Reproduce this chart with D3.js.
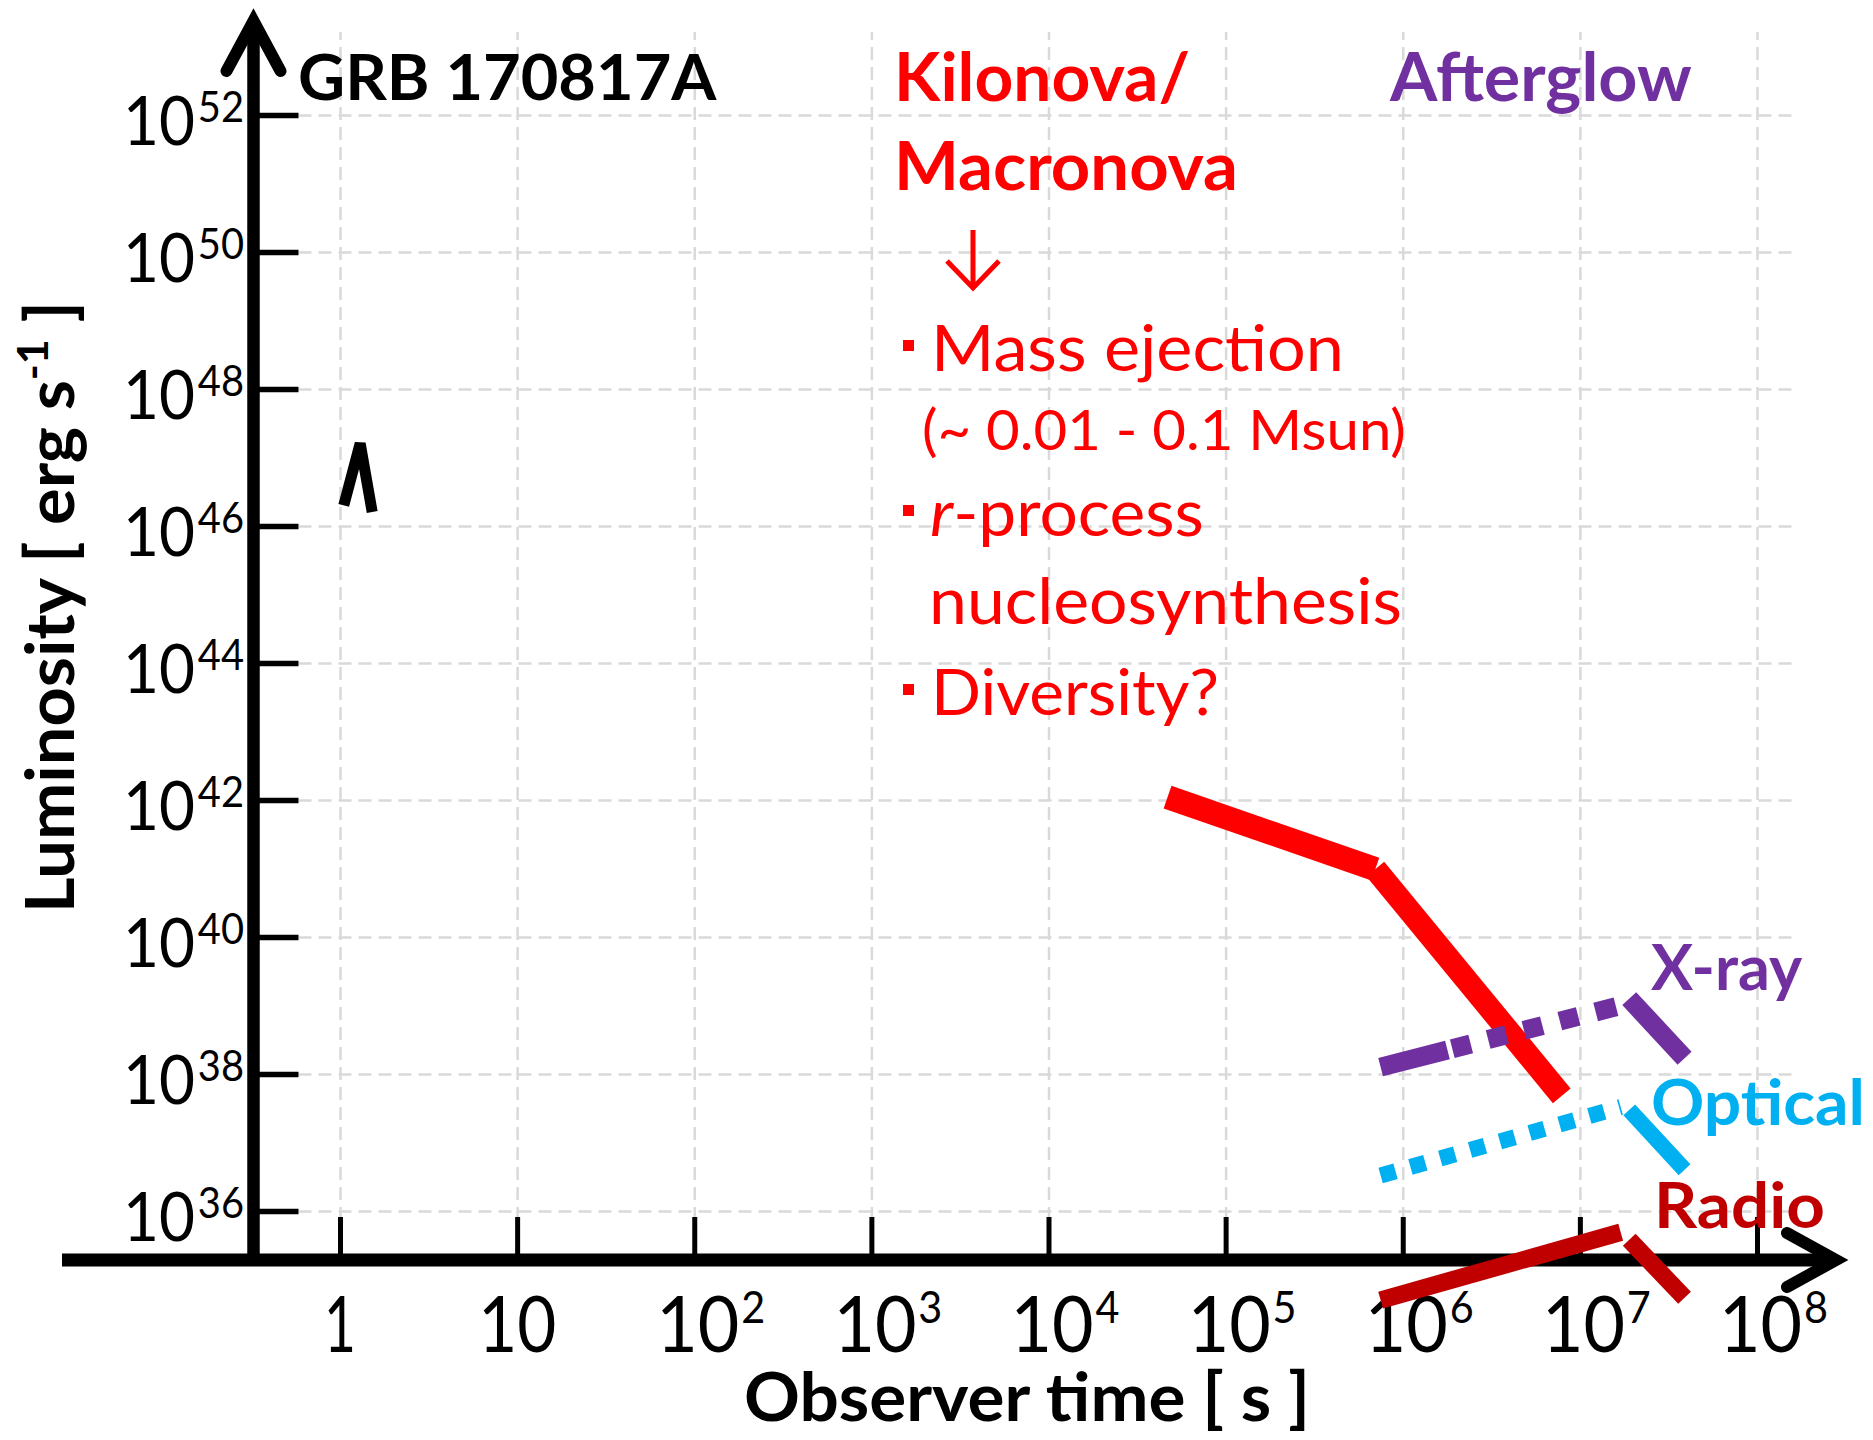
<!DOCTYPE html>
<html>
<head>
<meta charset="utf-8">
<script src="https://cdn.jsdelivr.net/npm/d3@7"></script>
<style>
  html, body { margin: 0; padding: 0; background: #fff; }
  svg { display: block; font-family: Lato, "Open Sans", sans-serif; }
</style>
</head>
<body>
<svg id="chart" width="1873" height="1440"></svg>
<script>
// ---- data -------------------------------------------------------------
const timeTicks = [1, 1e1, 1e2, 1e3, 1e4, 1e5, 1e6, 1e7, 1e8];
const timeTickLabels = [["1", ""], ["10", ""], ["10", "2"], ["10", "3"], ["10", "4"],
                        ["10", "5"], ["10", "6"], ["10", "7"], ["10", "8"]];
const lumTicks = [1e36, 1e38, 1e40, 1e42, 1e44, 1e46, 1e48, 1e50, 1e52];
const lumTickLabels = [["10", "36"], ["10", "38"], ["10", "40"], ["10", "42"], ["10", "44"],
                       ["10", "46"], ["10", "48"], ["10", "50"], ["10", "52"]];

// prompt gamma-ray emission marker
const promptT = [1.05, 1.3, 1.52];
const promptL = [2.0e46, 1.6e47, 1.6e46];

// kilonova / macronova light curve (plateau, then steep decline)
const kilonovaT = [4.7e4, 7.0e5, 7.9e6];
const kilonovaL = [1.1e42, 9.8e40, 4.8e37];

// afterglow: rise then decay in each band
const riseT = [7.5e5, 1.7e7];
const decayT = [1.9e7, 3.9e7];
const xrayRiseL = [1.26e38, 1.0e39];
const xrayDecayL = [1.26e39, 1.7e38];
const opticalRiseL = [3.3e36, 3.3e37];
const opticalDecayL = [3.0e37, 4.0e36];
const radioRiseL = [5.0e34, 4.9e35];
const radioDecayL = [3.8e35, 5.4e34];

// ---- layout -----------------------------------------------------------
const svg = d3.select("#chart");
const x = d3.scaleLog().domain([1, 1e8]).range([340, 1757]);
const y = d3.scaleLog().domain([1e36, 1e52]).range([1211, 115]);
const axisLeftX = 253.5;   // vertical axis position
const axisBottomY = 1260;  // horizontal axis position
const gridTop = 32, gridRight = 1796, yTickLen = 45, xTickLen = 43;

const RED = "#ff0000", PURPLE = "#7030a0", CYAN = "#00b0f0", DARKRED = "#c00000";

// ---- grid -------------------------------------------------------------
svg.append("g")
  .attr("transform", `translate(0,${axisBottomY})`)
  .call(d3.axisTop(x).tickValues(timeTicks).tickSize(axisBottomY - gridTop).tickFormat(""))
  .call(g => g.select(".domain").remove())
  .call(g => g.selectAll("line").attr("stroke", "#d9d9d9").attr("stroke-width", 2.5)
                                .attr("stroke-dasharray", "13,7"));

svg.append("g")
  .attr("transform", `translate(${axisLeftX + yTickLen},0)`)
  .call(d3.axisRight(y).tickValues(lumTicks).tickSize(gridRight - axisLeftX - yTickLen).tickFormat(""))
  .call(g => g.select(".domain").remove())
  .call(g => g.selectAll("line").attr("stroke", "#d9d9d9").attr("stroke-width", 2.5)
                                .attr("stroke-dasharray", "13,7"));

// ---- axes -------------------------------------------------------------
svg.append("g")
  .attr("transform", `translate(0,${axisBottomY})`)
  .call(d3.axisTop(x).tickValues(timeTicks).tickSize(xTickLen).tickFormat(""))
  .call(g => g.select(".domain").remove())
  .call(g => g.selectAll("line").attr("stroke", "#000").attr("stroke-width", 5));

svg.append("g")
  .attr("transform", `translate(${axisLeftX},0)`)
  .call(d3.axisRight(y).tickValues(lumTicks).tickSize(yTickLen).tickFormat(""))
  .call(g => g.select(".domain").remove())
  .call(g => g.selectAll("line").attr("stroke", "#000").attr("stroke-width", 5.5));

const axes = svg.append("g").attr("fill", "none").attr("stroke", "#000");
axes.append("line").attr("x1", 62).attr("x2", 1834).attr("y1", axisBottomY).attr("y2", axisBottomY)
  .attr("stroke-width", 13);
axes.append("line").attr("x1", axisLeftX).attr("x2", axisLeftX).attr("y1", axisBottomY + 6).attr("y2", 22)
  .attr("stroke-width", 12.5);
axes.append("path").attr("d", `M${axisLeftX - 27},71 L${axisLeftX},21 L${axisLeftX + 27},71`)
  .attr("stroke-width", 12).attr("stroke-linecap", "round").attr("stroke-linejoin", "miter");
axes.append("path").attr("d", `M1787,1233 L1836,${axisBottomY} L1787,1287`)
  .attr("stroke-width", 12).attr("stroke-linecap", "round").attr("stroke-linejoin", "miter");

// ---- text helper: draws text and fits it to a given width ------------
function label(parent, opt, parts) {
  const g = parent.append("g").attr("transform",
    `translate(${opt.x},${opt.y})` + (opt.rotate ? ` rotate(${opt.rotate})` : ""));
  const t = g.append("text")
    .attr("text-anchor", opt.anchor || "start")
    .attr("font-size", opt.size)
    .attr("font-weight", opt.weight || "normal")
    .attr("fill", opt.fill || "#000");
  parts.forEach(p => {
    const s = t.append("tspan").text(p.t);
    if (p.size) s.attr("font-size", p.size);
    if (p.dy) s.attr("dy", p.dy);
    if (p.dx) s.attr("dx", p.dx);
    if (p.italic) s.attr("font-style", "italic");
  });
  if (opt.width) {
    const w = t.node().getBBox().width;
    if (w > 0) t.attr("transform", `scale(${opt.width / w},1)`);
  }
  return t;
}

// tick labels
const yLabels = svg.append("g");
lumTicks.forEach((v, i) => {
  const [base, exp] = lumTickLabels[i];
  label(yLabels, { x: 244, y: y(v) + 30, size: 67, anchor: "end", width: 121 },
    [{ t: base }, { t: exp, size: 43, dy: -23, dx: 3 }]);
});

const xLabels = svg.append("g");
timeTicks.forEach((v, i) => {
  const [base, exp] = timeTickLabels[i];
  if (exp) {
    label(xLabels, { x: x(v) - 38, y: 1352, size: 78, anchor: "start", width: 109 },
      [{ t: base }, { t: exp, size: 45, dy: -29, dx: 2 }]);
  } else {
    label(xLabels, { x: x(v), y: 1352, size: 78, anchor: "middle", width: base.length === 1 ? 32 : 78 },
      [{ t: base }]);
  }
});

// axis titles
label(svg, { x: 744, y: 1421, size: 67, weight: "bold", width: 566 }, [{ t: "Observer time [ s ]" }]);
label(svg, { x: 74, y: 607, size: 67, weight: "bold", anchor: "middle", rotate: -90, width: 612 },
  [{ t: "Luminosity [ erg s" }, { t: "-1", size: 42, dy: -26 }, { t: " ]", dy: 26 }]);

// ---- curves -----------------------------------------------------------
const line = d3.line().x(d => x(d[0])).y(d => y(d[1]));
const pts = (ts, ls) => ts.map((t, i) => [t, ls[i]]);
const curves = svg.append("g").attr("fill", "none");

function segment(data, color, width, dash) {
  const p = curves.append("path").attr("d", line(data))
    .attr("stroke", color).attr("stroke-width", width)
    .attr("stroke-linecap", "butt").attr("stroke-linejoin", "miter");
  if (dash) p.attr("stroke-dasharray", dash);
  return p;
}

// prompt emission
segment(pts(promptT, promptL), "#000", 11);

// kilonova drawn as two straight pieces
segment(pts(kilonovaT.slice(0, 2), kilonovaL.slice(0, 2)), RED, 24);
segment(pts(kilonovaT.slice(1), kilonovaL.slice(1)), RED, 23);

// afterglow bands
segment(pts(riseT, radioRiseL), DARKRED, 17.5);
segment(pts(decayT, radioDecayL), DARKRED, 17.5);
segment(pts(riseT, opticalRiseL), CYAN, 16, "15.5,15.5");
segment(pts(decayT, opticalDecayL), CYAN, 16);
segment(pts(riseT, xrayRiseL), PURPLE, 19, "69,5,19,18,19,18,19,18,19,18,21,300");
segment(pts(decayT, xrayDecayL), PURPLE, 19);

// ---- annotations ------------------------------------------------------
label(svg, { x: 298, y: 100, size: 64, weight: "bold", width: 419 }, [{ t: "GRB 170817A" }]);
label(svg, { x: 894, y: 101, size: 67, weight: "bold", fill: RED, width: 296 }, [{ t: "Kilonova/" }]);
label(svg, { x: 894, y: 190, size: 67, weight: "bold", fill: RED, width: 344 }, [{ t: "Macronova" }]);
label(svg, { x: 1390, y: 101, size: 67, weight: "bold", fill: PURPLE, width: 303 }, [{ t: "Afterglow" }]);

svg.append("path").attr("d", "M973,230 V286 M947,261 L973,288 L999,261")
  .attr("fill", "none").attr("stroke", RED).attr("stroke-width", 5).attr("stroke-linejoin", "miter");

const notes = svg.append("g");
const bulletRows = [371, 536, 715];
bulletRows.forEach(b => notes.append("rect").attr("x", 903).attr("y", b - 31).attr("width", 11).attr("height", 11)
  .attr("fill", RED));
label(notes, { x: 931, y: 371, size: 64, fill: RED, width: 413 }, [{ t: "Mass ejection" }]);
label(notes, { x: 922, y: 450, size: 57, fill: RED, width: 484 }, [{ t: "(~ 0.01 - 0.1 Msun)" }]);
label(notes, { x: 930, y: 536, size: 64, fill: RED, width: 274 }, [{ t: "r", italic: true }, { t: "-process" }]);
label(notes, { x: 929, y: 624, size: 64, fill: RED, width: 473 }, [{ t: "nucleosynthesis" }]);
label(notes, { x: 931, y: 715, size: 64, fill: RED, width: 288 }, [{ t: "Diversity?" }]);

label(svg, { x: 1651, y: 990, size: 63, weight: "bold", fill: PURPLE, width: 152 }, [{ t: "X-ray" }]);
label(svg, { x: 1651, y: 1125, size: 63, weight: "bold", fill: CYAN, width: 214 }, [{ t: "Optical" }]);
label(svg, { x: 1654, y: 1228, size: 63, weight: "bold", fill: DARKRED, width: 171 }, [{ t: "Radio" }]);
</script>
</body>
</html>
